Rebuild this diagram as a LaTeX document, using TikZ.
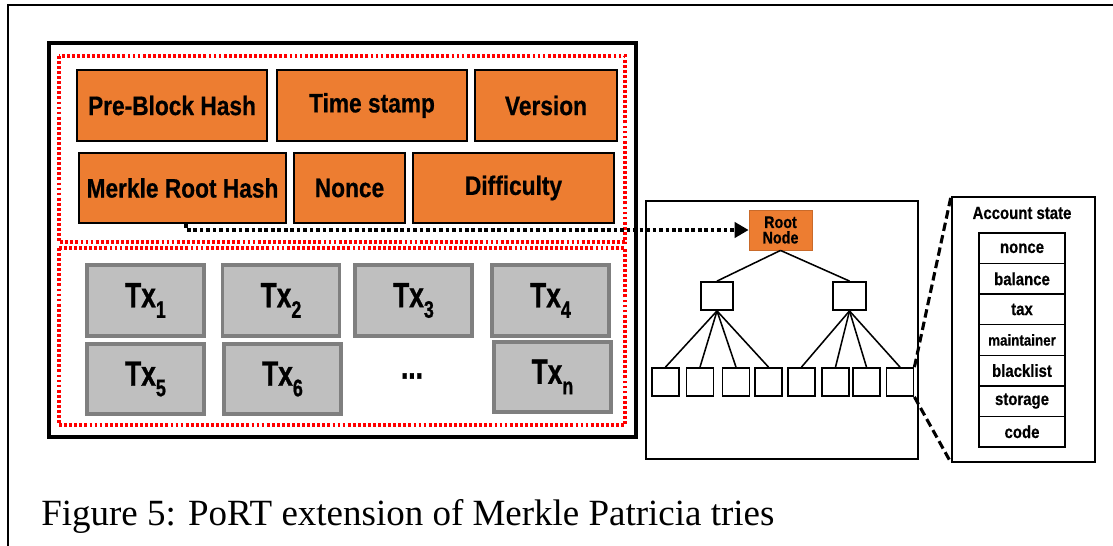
\documentclass[tikz,border=0pt]{standalone}
\usepackage{fontspec}
\setmainfont{Liberation Serif}
\newfontfamily\cond[FakeStretch=0.85,BoldFeatures={FakeBold=0.6}]{Liberation Sans}
\newfontfamily\condx[FakeStretch=0.75,BoldFeatures={FakeBold=0.8}]{Liberation Sans}
\usetikzlibrary{arrows.meta,positioning,fit}
\definecolor{hdrorange}{HTML}{ED7D31}
\definecolor{txgray}{HTML}{BFBFBF}
\definecolor{txedge}{HTML}{7F7F7F}
\def \px {0.025cm}
\tikzstyle{field} = [draw,line width=2pt,fill=hdrorange,rectangle,inner sep=0,font=\cond\bfseries\fontsize{19}{22}\selectfont]
\tikzstyle{txbox} = [draw=txedge,line width=2.2pt,fill=txgray,rectangle,inner sep=0,minimum width=117*\px,minimum height=71*\px,font=\condx\bfseries\fontsize{25}{28}\selectfont]
\tikzstyle{trnode} = [draw,line width=1.3pt,rectangle,inner sep=0,minimum height=28*\px]
\tikzstyle{cell} = [draw,line width=1pt,rectangle,inner sep=0,outer sep=0,minimum width=86*\px,minimum height=30.57*\px,font=\cond\bfseries\fontsize{12.5}{14}\selectfont]
\tikzstyle{redbox} = [draw=red,line width=2.4pt,dash pattern=on 2pt off 1.6pt]
\tikzstyle{index} = [-,line width=1.1pt]
\tikzstyle{dotlink} = [line width=2.2pt,dash pattern=on 2.6pt off 2pt,-{Triangle[length=10pt,width=11pt]}]
\tikzstyle{zoomline} = [line width=2.2pt,dash pattern=on 6pt off 3pt]
\newcommand\txsub[1]{Tx\raisebox{-7.5pt}{\fontsize{17}{17}\selectfont#1}}

\begin{document}
\begin{tikzpicture}[x=\px,y=-\px]
  \useasboundingbox (0,0) rectangle (1113,546);
  \draw[line width=1.4pt] (8,546) -- (8,5) -- (1113,5);

  % block
  \draw[line width=2.8pt] (49,43) rectangle (636,437);
  \draw[redbox] (59,56) rectangle (625,242);
  \draw[redbox] (59,248) rectangle (625,425);

  % header fields
  \node[field,minimum width=190*\px,minimum height=71*\px] (pbh) at (172,105.5) {Pre-Block Hash};
  \node[field,minimum width=190*\px,minimum height=71*\px] (ts) at (372,105.5) {Time stamp};
  \node[field,minimum width=142*\px,minimum height=71*\px] (ver) at (546,105.5) {Version};
  \node[field,minimum width=207*\px,minimum height=70*\px] (mrh) at (182.5,188) {Merkle Root Hash};
  \node[field,minimum width=111*\px,minimum height=70*\px] (nonce) at (349.5,188) {Nonce};
  \node[field,minimum width=201*\px,minimum height=70*\px] (diff) at (513.5,188) {Difficulty};

  % transactions
  \node[txbox] (tx1) at (145.5,300.5) {\txsub{1}};
  \node[txbox] (tx2) at (281,300.5) {\txsub{2}};
  \node[txbox] (tx3) at (413.5,300.5) {\txsub{3}};
  \node[txbox] (tx4) at (550.5,300.5) {\txsub{4}};
  \node[txbox,minimum height=70*\px] (tx5) at (145.5,379) {\txsub{5}};
  \node[txbox,minimum height=70*\px] (tx6) at (282.5,379) {\txsub{6}};
  \node[inner sep=0,font=\condx\bfseries\fontsize{25}{28}\selectfont] (dots) at (412,376) {...};
  \node[txbox,minimum height=70*\px] (txn) at (552.5,377) {\txsub{n}};

  % trie
  \draw[line width=0.8pt] (646,201) rectangle (918,459);
  \node[draw=hdrorange!85!black,line width=0.6pt,fill=hdrorange,inner sep=0,minimum width=63*\px,minimum height=40*\px,align=center,font=\cond\bfseries\fontsize{12}{11}\selectfont] (root) at (780.5,230) {Root\\Node};
  \node[trnode,minimum width=32*\px] (ml) at (717,296) {};
  \node[trnode,minimum width=33*\px] (mr) at (849.5,296) {};
  \foreach \x [count=\i] in {665.5,700,736,768.5,801.5,835.5,866.5,900}
    \node[trnode,minimum width=27*\px] (l\i) at (\x,382) {};
  \draw[index] (root.south) -- (ml.north);
  \draw[index] (root.south) -- (mr.north);
  \foreach \i in {1,...,4}
    \draw[index] (ml.south) -- (l\i.north);
  \foreach \i in {5,...,8}
    \draw[index] (mr.south) -- (l\i.north);

  \draw[dotlink] ([xshift=3.5*\px]mrh.south) |- (root.west);

  % account state
  \node[draw,line width=1.3pt,inner sep=0,minimum width=143*\px,minimum height=265*\px] (acct) at (1023.5,329.5) {};
  \node[inner sep=0,font=\cond\bfseries\fontsize{12.5}{14}\selectfont] (title) at (1022,213) {Account state};
  \node[cell] (c1) at (1022,248.3) {nonce};
  \foreach \t [count=\i from 2] in {balance,tax,{\fontsize{11.2}{13}\selectfont maintainer},blacklist,storage,code} {
    \pgfmathtruncatemacro\j{\i-1}
    \node[cell,below=0pt of c\j] (c\i) {\t};
  }
  \draw[zoomline] (l8.north east) -- (acct.north west);
  \draw[zoomline] (l8.south east) -- (acct.south west);

  \node[anchor=base west,inner sep=0,font=\fontsize{26.3}{28}\selectfont] (cap) at (41,525) {Figure 5: PoRT extension of Merkle Patricia tries};
\end{tikzpicture}
\end{document}
